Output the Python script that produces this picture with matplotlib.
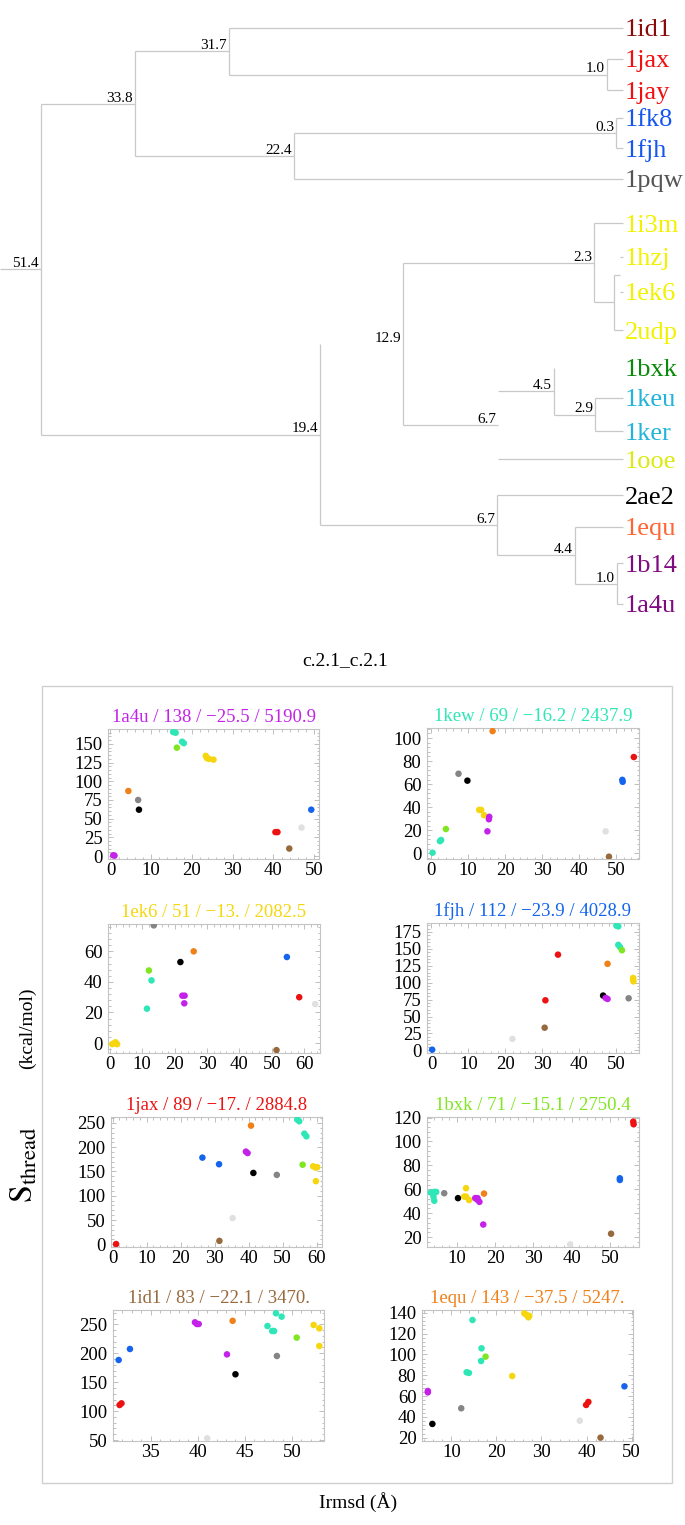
import matplotlib
matplotlib.use('Agg')
import matplotlib.pyplot as plt
from matplotlib.patches import Rectangle
from matplotlib.ticker import MultipleLocator, AutoMinorLocator

plt.rcParams['font.family'] = ['Liberation Serif', 'DejaVu Serif']
plt.rcParams['mathtext.fontset'] = 'stix'

W, H = 685, 1525

# ---------------- dendrogram data ----------------
leaves = ['1id1', '1jax', '1jay', '1fk8', '1fjh', '1pqw', '1i3m', '1hzj', '1ek6',
          '2udp', '1bxk', '1keu', '1ker', '1ooe', '2ae2', '1equ', '1b14', '1a4u']
leaf_colors = ['#8a0a0a', '#f01010', '#f01010', '#1656ee', '#1656ee', '#555555',
               '#f2f200', '#f2f200', '#f2f200', '#f2f200', '#0a8a0a', '#22b4da',
               '#22b4da', '#dcea10', '#000000', '#ff6432', '#800a80', '#800a80']
leaf_y = [28, 59, 90, 118, 148, 179, 223, 257, 292, 330, 368, 398, 431, 459,
          495, 527, 563, 604]

# merges: node name, distance label, children, drawn depth
node_names = ['n1', 'n2', 'n3', 'n4', 'n5', 'n6', 'n7', 'n8', 'n9', 'n10',
              'n11', 'n12', 'n13', 'n14', 'n15', 'n16', 'n17']
node_labels = ['1.0', '31.7', '0.3', '22.4', '33.8', '', '', '2.3', '2.9', '4.5',
               '6.7', '12.9', '1.0', '4.4', '6.7', '19.4', '51.4']
node_children = [('1jax', '1jay'), ('1id1', 'n1'), ('1fk8', '1fjh'), ('n3', '1pqw'),
                 ('n2', 'n4'), ('1hzj', '1ek6'), ('n6', '2udp'), ('1i3m', 'n7'),
                 ('1keu', '1ker'), ('1bxk', 'n9'), ('n10', '1ooe'), ('n8', 'n11'),
                 ('1b14', '1a4u'), ('1equ', 'n13'), ('2ae2', 'n14'), ('n12', 'n15'),
                 ('n5', 'n16')]
node_depth = [607, 229, 616, 294, 135, 620, 614, 594, 595, 554, 498, 403, 617,
              575, 497, 320, 41]
LEAF_X = 623

# links the original drawing leaves out
no_link = {('n16', 'n12'), ('n10', '1bxk')}
no_vertical = {'n11', 'n6'}

# ---------------- scatter data ----------------
COLORS = {
    'magenta': '#c422ea', 'teal': '#2ee6b6', 'lime': '#80e622', 'gold': '#f6d60e',
    'orange': '#f08018', 'gray': '#858585', 'black': '#000000', 'blue': '#1464ee',
    'silver': '#e0e0e0', 'red': '#ec1212', 'brown': '#976a3e',
}

a4u_x = [0.7, 1.0, 15.4, 16.0, 17.6, 18.0, 16.3, 23.4, 23.7, 24.2, 25.3, 4.4, 6.8,
         7.0, 49.3, 46.9, 40.5, 41.0, 43.9]
a4u_y = [1.0, 0.5, 166, 165, 153, 151, 145, 134, 131, 130, 129, 87, 75, 62, 62,
         38, 32, 32, 10]
a4u_c = ['magenta', 'magenta', 'teal', 'teal', 'teal', 'teal', 'lime', 'gold', 'gold',
         'gold', 'gold', 'orange', 'gray', 'black', 'blue', 'silver', 'red', 'red',
         'brown']

kew_x = [0.4, 2.4, 2.7, 4.0, 7.4, 9.8, 16.6, 13.0, 13.5, 14.3, 15.7, 15.6, 15.2,
         47.1, 48.0, 51.6, 51.7, 54.7]
kew_y = [0.5, 10.5, 11.5, 21, 69, 63, 106, 37.6, 37.6, 33, 31.6, 29.5, 19, 19, -3,
         63.7, 62, 83.5]
kew_c = ['teal', 'teal', 'teal', 'lime', 'gray', 'black', 'orange', 'gold', 'gold',
         'gold', 'magenta', 'magenta', 'magenta', 'silver', 'brown', 'blue', 'blue',
         'red']

ek6_x = [13.6, 25.9, 21.8, 12.1, 12.9, 11.5, 22.4, 23.1, 23.0, 0.8, 1.8, 2.3, 1.5,
         54.6, 58.4, 63.3, 51.4]
ek6_y = [77, 60, 53, 47.5, 41, 22.5, 31, 31, 26, -0.7, 0.5, -0.7, 0.0, 56.3, 30,
         25.5, -4.6]
ek6_c = ['gray', 'orange', 'black', 'lime', 'teal', 'teal', 'magenta', 'magenta',
         'magenta', 'gold', 'gold', 'gold', 'gold', 'blue', 'red', 'silver', 'brown']

fjh_x = [0.2, 21.9, 30.6, 30.8, 34.2, 47.6, 46.4, 47.1, 47.6, 53.3, 50.0, 50.5, 50.5,
         51.0, 51.5, 54.5, 54.5, 54.6]
fjh_y = [1, 17, 33.5, 74, 141.5, 128, 81, 77.5, 76, 77, 184.3, 183.3, 156, 152.5,
         148, 107, 104.5, 102]
fjh_c = ['blue', 'silver', 'brown', 'red', 'red', 'orange', 'black', 'magenta',
         'magenta', 'gray', 'teal', 'teal', 'teal', 'teal', 'lime', 'gold', 'gold',
         'gold']

jax_x = [1.0, 31.4, 35.3, 26.4, 31.3, 39.2, 39.7, 40.7, 41.4, 48.3, 54.3, 54.9, 56.4,
         57.0, 55.9, 59.0, 59.8, 60.2, 59.8]
jax_y = [0.5, 7, 54, 178.6, 165, 191, 188, 244.5, 147, 143, 257, 253.5, 228, 222.5,
         164, 160.7, 158, 159, 130]
jax_c = ['red', 'brown', 'silver', 'blue', 'blue', 'magenta', 'magenta', 'orange',
         'black', 'gray', 'teal', 'teal', 'teal', 'teal', 'lime', 'gold', 'gold',
         'gold', 'gold']

bxk_x = [3.2, 4.1, 4.6, 3.9, 4.1, 6.7, 10.3, 12.4, 11.9, 12.4, 13.2, 14.8, 15.4, 15.9,
         15.4, 17.1, 16.9, 39.6, 50.3, 52.6, 52.6, 56.1, 56.2]
bxk_y = [57.3, 57.8, 57.8, 53.7, 50.4, 56.7, 52.6, 60.9, 53.9, 53.9, 51, 52.6, 52.6,
         49.5, 51.2, 56.4, 30.5, 13.9, 22.8, 69.2, 67.8, 116.6, 114.4]
bxk_c = ['teal', 'teal', 'teal', 'teal', 'teal', 'gray', 'black', 'gold', 'gold',
         'gold', 'gold', 'magenta', 'magenta', 'magenta', 'magenta', 'orange',
         'magenta', 'silver', 'brown', 'blue', 'blue', 'red', 'red']

id1_x = [31.6, 32.8, 31.7, 31.9, 39.7, 39.9, 40.1, 41.0, 43.1, 43.7, 44.0, 47.4, 47.9,
         48.1, 48.3, 48.9, 48.4, 50.5, 52.3, 52.9, 52.9]
id1_y = [188.3, 207.3, 110.5, 113.4, 253.4, 250.5, 250.5, 53, 198, 256, 163.6, 247,
         238.4, 238.4, 269, 263.2, 195.2, 227, 248.8, 243, 212.5]
id1_c = ['blue', 'blue', 'red', 'red', 'magenta', 'magenta', 'magenta', 'silver',
         'magenta', 'orange', 'black', 'teal', 'teal', 'teal', 'teal', 'teal', 'gray',
         'lime', 'gold', 'gold', 'gold']

equ_x = [4.8, 4.8, 5.8, 12.2, 14.7, 13.4, 13.9, 16.7, 16.6, 17.6, 23.5, 26.2, 26.7,
         27.1, 27.3, 38.5, 39.9, 40.4, 43.1, 48.4]
equ_y = [64.8, 63.5, 33.2, 48.2, 133, 82.8, 82.2, 105.8, 93.6, 97.8, 79.2, 139.4,
         137.8, 135.6, 137, 36.3, 51.4, 54.3, 20, 69.3]
equ_c = ['magenta', 'magenta', 'black', 'gray', 'teal', 'teal', 'teal', 'teal', 'teal',
         'lime', 'gold', 'gold', 'gold', 'gold', 'gold', 'silver', 'red', 'red',
         'brown', 'blue']

panel_titles = ['1a4u / 138 / \u221225.5 / 5190.9', '1kew / 69 / \u221216.2 / 2437.9',
                '1ek6 / 51 / \u221213. / 2082.5', '1fjh / 112 / \u221223.9 / 4028.9',
                '1jax / 89 / \u221217. / 2884.8', '1bxk / 71 / \u221215.1 / 2750.4',
                '1id1 / 83 / \u221222.1 / 3470.', '1equ / 143 / \u221237.5 / 5247.']
panel_colors = ['magenta', 'teal', 'gold', 'blue', 'red', 'lime', 'brown', 'orange']
panel_data = [(a4u_x, a4u_y, a4u_c), (kew_x, kew_y, kew_c), (ek6_x, ek6_y, ek6_c),
              (fjh_x, fjh_y, fjh_c), (jax_x, jax_y, jax_c), (bxk_x, bxk_y, bxk_c),
              (id1_x, id1_y, id1_c), (equ_x, equ_y, equ_c)]
panel_xlim = [(-0.6, 51.2), (-1.1, 56.1), (-0.5, 64.8), (-1.2, 56.1),
              (-0.5, 61.6), (2.2, 57.6), (31.0, 53.4), (3.5, 50.3)]
panel_ylim = [(-4, 170), (-5, 108.7), (-6.5, 77.9), (-3.9, 188.3),
              (-5.6, 262.3), (11.7, 120.5), (48.3, 274.7), (16.8, 142.6)]
panel_xstep = [10, 10, 10, 10, 10, 10, 5, 10]
panel_ystep = [25, 20, 20, 25, 50, 20, 50, 20]

# axes boxes in pixels (left, top, right, bottom)
panel_box = [(108, 729, 319, 859), (427, 728, 639, 859),
             (108, 924, 320, 1053), (427, 923, 639, 1053),
             (111, 1117, 322, 1247), (427, 1117, 639, 1247),
             (113, 1310, 324, 1441), (422, 1310, 633, 1441)]

fig = plt.figure(figsize=(W / 100, H / 100), dpi=100)

# ---------------- dendrogram ----------------
ax_t = fig.add_axes([0, 1 - 625 / H, 1, 625 / H])
ax_t.set_xlim(0, W)
ax_t.set_ylim(625, 0)
ax_t.axis('off')
line_kw = dict(color='#c8c8c8', lw=0.9, solid_capstyle='butt')

ypos = dict(zip(leaves, leaf_y))
xpos = {name: LEAF_X for name in leaves}
for name, lab, (a, b), x in zip(node_names, node_labels, node_children, node_depth):
    y = (ypos[a] + ypos[b]) / 2
    ypos[name], xpos[name] = y, x
    if name not in no_vertical:
        ax_t.plot([x, x], [ypos[a], ypos[b]], **line_kw)
    for c in (a, b):
        if (name, c) not in no_link:
            ax_t.plot([x, xpos[c]], [ypos[c], ypos[c]], **line_kw)
    if lab:
        ax_t.text(x - 2, y - 2, lab, ha='right', va='baseline', fontsize=11)
root = node_names[-1]
ax_t.plot([0, xpos[root]], [ypos[root], ypos[root]], **line_kw)

for name, col, y in zip(leaves, leaf_colors, leaf_y):
    ax_t.text(625, y + 8.5, name, color=col, fontsize=19, ha='left', va='baseline')

# ---------------- scatter panels ----------------
for box, title, tcol, (xs, ys, cs), xl, yl, xs_, ys_ in zip(
        panel_box, panel_titles, panel_colors, panel_data, panel_xlim, panel_ylim,
        panel_xstep, panel_ystep):
    l, t, r, b = box
    ax = fig.add_axes([l / W, 1 - b / H, (r - l) / W, (b - t) / H])
    ax.scatter(xs, ys, c=[COLORS[k] for k in cs], s=22, linewidths=0, zorder=3)
    ax.set_xlim(xl)
    ax.set_ylim(yl)
    ax.xaxis.set_major_locator(MultipleLocator(xs_))
    ax.yaxis.set_major_locator(MultipleLocator(ys_))
    ax.xaxis.set_minor_locator(AutoMinorLocator(5))
    ax.yaxis.set_minor_locator(AutoMinorLocator(5))
    ax.tick_params(which='both', direction='in', top=True, right=True,
                   color='#b4b4b4', width=0.6, labelsize=13.5)
    ax.tick_params(which='major', length=3.5)
    ax.tick_params(which='minor', length=1.8)
    ax.tick_params(axis='x', pad=2)
    ax.tick_params(axis='y', pad=4)
    for s in ax.spines.values():
        s.set_color('#c4c4c4')
        s.set_linewidth(0.8)
    ax.set_title(title, color=COLORS[tcol], fontsize=13.5, pad=5)

# frame, title and axis labels
fig.add_artist(Rectangle((42 / W, 1 - 1483 / H), (672 - 42) / W, (1483 - 686) / H,
                         transform=fig.transFigure, fill=False, ec='#d0d0d0', lw=1))
fig.text(345 / W, 1 - 661 / H, 'c.2.1_c.2.1', ha='center', va='center', fontsize=14)
fig.text(358 / W, 1 - 1502 / H, 'Irmsd (\u00c5)', ha='center', va='center', fontsize=14)
fig.text(25 / W, 1 - 1165 / H, r'$\mathrm{S}_{\mathrm{thread}}$', rotation=90,
         ha='center', va='center', fontsize=23)
fig.text(27 / W, 1 - 1028 / H, '(kcal/mol)', rotation=90, ha='center', va='center',
         fontsize=14)

fig.savefig('out.png', dpi=100)
